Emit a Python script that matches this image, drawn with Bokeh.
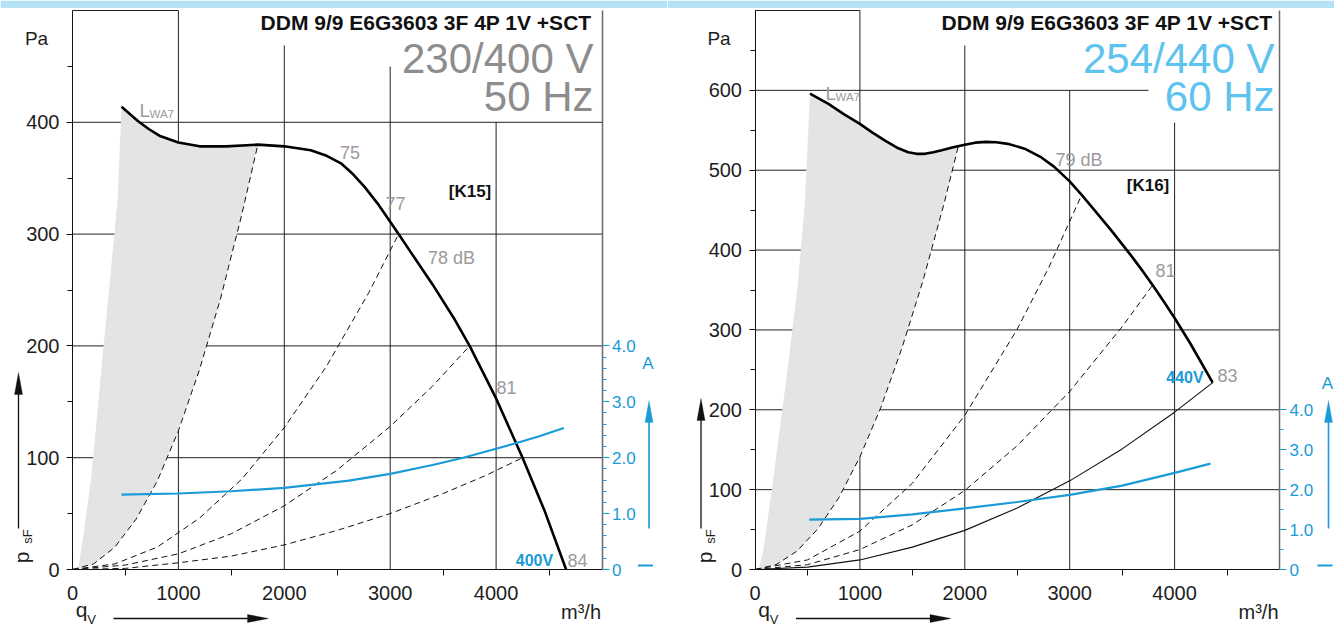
import math
from bokeh.plotting import figure
from bokeh.models import (Range1d, LinearAxis, FixedTicker, CustomJSTickFormatter, Label,
                          Arrow, PolyAnnotation)
from bokeh.layouts import row
from bokeh.embed import file_html
from bokeh.resources import INLINE

# ------------------------------------------------------------------
# DATA  (q in m3/h, p in Pa, current in A)
# ------------------------------------------------------------------
x_ticks = [0, 1000, 2000, 3000, 4000]
x_minor = [500, 1500, 2500, 3500, 4500]

# ---- left chart: 230/400 V, 50 Hz ----
L_title = "DDM 9/9 E6G3603 3F 4P 1V +SCT"
L_volt = "230/400 V"
L_freq = "50 Hz"
L_y_ticks = [0, 100, 200, 300, 400]
L_y_minor = [50, 150, 250, 350, 450]
L_a_ticks = [0, 1, 2, 3, 4]
L_a_minor = [0.2, 0.4, 0.6, 0.8, 1.2, 1.4, 1.6, 1.8, 2.2, 2.4, 2.6, 2.8, 3.2, 3.4, 3.6, 3.8]

L_curve_q = [463, 620, 720, 820, 1000, 1200, 1450, 1750, 2000, 2250, 2400, 2540, 2650, 2760, 2880,
             3000, 3079, 3200, 3400, 3600, 3750, 4000, 4250, 4460, 4661]
L_curve_p = [414, 401, 394, 388, 382, 378.5, 378.5, 380, 378.5, 375, 370, 363, 353.5, 342, 327.5,
             311, 300, 283, 255, 225, 200, 153, 100, 52, 0]
L_edge_q = [53, 110, 174, 235, 293, 360, 425, 463]
L_edge_p = [0, 35, 80, 140, 200, 265, 330, 414]
L_sys1_q = [0, 200, 400, 600, 800, 1000, 1200, 1400, 1600, 1750]
L_sys1_p = [0, 5, 20, 45, 79, 124, 179, 243, 318, 380]
L_sys2_q = [0, 400, 800, 1200, 1600, 2000, 2400, 2800, 3079]
L_sys2_p = [0, 5, 20, 46, 81, 127, 182, 248, 300]
L_sys3_q = [0, 500, 1000, 1500, 2000, 2500, 3000, 3400, 3750]
L_sys3_p = [0, 4, 14, 32, 57, 89, 128, 164, 200]
L_sys4_q = [0, 500, 1000, 1500, 2000, 2500, 3000, 3500, 3900, 4250]
L_sys4_p = [0, 1, 6, 12, 22, 35, 50, 68, 84, 100]
L_cur_q = [463, 1000, 1500, 2000, 2610, 3000, 3400, 3690, 4000, 4170, 4400, 4640]
L_cur_a = [1.34, 1.36, 1.40, 1.46, 1.59, 1.71, 1.87, 2.00, 2.16, 2.25, 2.38, 2.53]
L_db_text = ["75", "77", "78 dB", "81", "84"]
L_tag = "[K15]"
L_vtag = "400V"

# ---- right chart: 254/440 V, 60 Hz ----
R_title = "DDM 9/9 E6G3603 3F 4P 1V +SCT"
R_volt = "254/440 V"
R_freq = "60 Hz"
R_y_ticks = [0, 100, 200, 300, 400, 500, 600]
R_y_minor = [50, 150, 250, 350, 450, 550, 650]
R_a_ticks = [0, 1, 2, 3, 4]
R_a_minor = [0.5, 1.5, 2.5, 3.5]

R_curve_q = [524, 700, 850, 1000, 1120, 1240, 1350, 1460, 1540, 1620, 1700, 1780, 1880, 2000,
             2100, 2200, 2300, 2410, 2570, 2730, 2850, 3000, 3114, 3230, 3400, 3580, 3700,
             3800, 3900, 4000, 4150, 4363]
R_curve_p = [596, 583, 570, 558, 547, 537, 528.5, 522.5, 520.5, 520.5, 522.5, 525, 528.5, 532,
             534.5, 535.5, 535, 533, 527, 516, 504.5, 486, 469, 451, 424, 394, 373,
             354.5, 335, 315, 283, 234]
R_edge_q = [36, 80, 150, 230, 320, 410, 476, 524]
R_edge_p = [0, 25, 90, 170, 260, 360, 461, 596]
R_sys1_q = [0, 200, 400, 600, 800, 1000, 1200, 1400, 1600, 1800, 1940]
R_sys1_p = [0, 6, 23, 51, 90, 141, 203, 277, 361, 457, 531]
R_sys2_q = [0, 500, 1000, 1500, 2000, 2500, 2800, 3114]
R_sys2_p = [0, 12, 48, 108, 193, 301, 378, 469]
R_sys3_q = [0, 500, 1000, 1500, 2000, 2500, 3000, 3500, 3790]
R_sys3_p = [0, 6, 25, 56, 99, 155, 223, 304, 356]
R_line_q = [0, 500, 1000, 1500, 2000, 2500, 3000, 3500, 4000, 4363]
R_line_p = [0, 3, 12, 28, 49, 77, 111, 151, 197, 234]
R_cur_q = [518, 1000, 1500, 2000, 2500, 3000, 3500, 4000, 4342]
R_cur_a = [1.25, 1.27, 1.38, 1.53, 1.69, 1.87, 2.10, 2.42, 2.65]
R_db_text = ["79 dB", "81", "83"]
R_tag = "[K16]"
R_vtag = "440V"

# ------------------------------------------------------------------
# STYLE / LAYOUT
# ------------------------------------------------------------------
FONT = "Liberation Sans"
BLUE = "#1a9ad6"
LBLUE = "#5ec3ee"
GREYT = "#9b9b9b"
FILL = "#e3e4e4"
GRID = "#222222"
BAND = "#b6e2f6"
INK = "#1e1e1e"
W = 667
H = 628
PA_PER_A = 50              # 1 A on the current axis == 50 Pa


class Geo:
    """page-pixel position of a chart's plotting area, used to place annotations."""
    def __init__(self, fig_x, fl, fr, ft, fb, xmax, ymax):
        self.fig_x = fig_x
        self.fl, self.fr, self.ft, self.fb = fl, fr, ft, fb
        self.xmax, self.ymax = xmax, ymax

    def x(self, X):
        return (X - self.fl) / (self.fr - self.fl) * self.xmax

    def y(self, Y):
        return (self.fb - Y) / (self.fb - self.ft) * self.ymax


def label(p, g, text, X, Y, size, color, align="center", bold=False, angle=0.0,
          baseline="middle", font=FONT):
    p.add_layout(Label(x=g.x(X), y=g.y(Y), text=text, text_font=font,
                       text_font_size=f"{size}px", text_color=color, text_align=align,
                       text_baseline=baseline, text_font_style="bold" if bold else "normal",
                       angle=angle))


def line(p, g, X0, Y0, X1, Y1, color, width):
    p.add_layout(Arrow(x_start=g.x(X0), y_start=g.y(Y0), x_end=g.x(X1), y_end=g.y(Y1),
                       start=None, end=None, line_color=color, line_width=width))


def head(p, g, pts, color):
    p.add_layout(PolyAnnotation(xs=[g.x(a) for a, b in pts], ys=[g.y(b) for a, b in pts],
                                fill_color=color, fill_alpha=1.0, line_color=color, line_width=1))


def build(g, d):
    xs, xe = g.x(g.fig_x), g.x(g.fig_x + W)
    ys, ye = g.y(H), g.y(0)
    p = figure(width=W, height=H, x_range=Range1d(xs, xe), y_range=Range1d(ys, ye),
               output_backend="svg", toolbar_location=None,
               min_border_left=0, min_border_right=0, min_border_top=0, min_border_bottom=0)
    p.outline_line_color = None
    p.xgrid.visible = False
    p.ygrid.visible = False
    p.background_fill_color = "white"
    p.border_fill_color = "white"

    # light blue band along the top edge of the page
    p.quad(left=[xs], right=[xe], bottom=[g.y(7.5)], top=[ye], fill_color=BAND, line_color=None)

    # axes (placed at the data origin)
    xa = p.xaxis[0]
    xa.fixed_location = 0
    xa.bounds = (0, g.xmax)
    xa.ticker = FixedTicker(ticks=x_ticks, minor_ticks=x_minor)
    xa.major_tick_out = 0
    xa.major_tick_in = 0
    xa.minor_tick_out = 6
    xa.minor_tick_in = 0
    xa.axis_line_color = "#111111"
    xa.minor_tick_line_color = "#111111"
    xa.major_label_standoff = 10
    xa.major_label_text_font = FONT
    xa.major_label_text_font_size = "20px"
    xa.major_label_text_color = INK

    ya = p.yaxis[0]
    ya.fixed_location = 0
    ya.bounds = (0, g.ymax)
    ya.ticker = FixedTicker(ticks=d["yt"], minor_ticks=d["ym"])
    ya.major_tick_out = 6
    ya.major_tick_in = 0
    ya.minor_tick_out = 5
    ya.minor_tick_in = 0
    ya.axis_line_color = "#111111"
    ya.major_tick_line_color = "#111111"
    ya.minor_tick_line_color = "#111111"
    ya.major_label_standoff = 7
    ya.major_label_text_font = FONT
    ya.major_label_text_font_size = "20px"
    ya.major_label_text_color = INK

    p.extra_y_ranges = {"cur": Range1d(ys / PA_PER_A, ye / PA_PER_A)}
    ca = LinearAxis(y_range_name="cur", ticker=FixedTicker(ticks=d["at"], minor_ticks=d["am"]),
                    formatter=CustomJSTickFormatter(code="return tick == 0 ? '0' : tick.toFixed(1);"))
    ca.fixed_location = g.xmax
    ca.bounds = (0, g.ymax / PA_PER_A)
    ca.axis_line_color = "#6a6a6a"
    ca.axis_line_width = 1.5
    ca.major_tick_line_color = BLUE
    ca.minor_tick_line_color = BLUE
    ca.major_tick_out = 7
    ca.major_tick_in = 0
    ca.minor_tick_out = 4
    ca.minor_tick_in = 0
    ca.major_label_standoff = 3
    ca.major_label_text_font = FONT
    ca.major_label_text_font_size = "17px"
    ca.major_label_text_color = BLUE
    p.add_layout(ca, "right")

    # grid lines (some are cut short under the title block)
    gx0, gy0, gx1, gy1 = [], [], [], []
    for t, top in zip(x_ticks[1:], d["vtop"]):
        gx0.append(t); gy0.append(0); gx1.append(t); gy1.append(top)
    for t, right in zip(d["yt"][1:], d["hend"]):
        gx0.append(0); gy0.append(t); gx1.append(right); gy1.append(t)
    gx0.append(0); gy0.append(g.ymax); gx1.append(x_ticks[1]); gy1.append(g.ymax)
    p.segment(gx0, gy0, gx1, gy1, line_color=GRID, line_width=1)

    # shaded L_WA7 area
    top = [(q, v) for q, v in zip(d["cq"], d["cp"]) if d["cq"][0] < q < d["s1q"][-1]]
    sysback = [(q, v) for q, v in zip(d["s1q"], d["s1p"]) if q > d["eq"][0]][::-1]
    poly = list(zip(d["eq"], d["ep"])) + top + sysback
    p.patch([a for a, b in poly], [b for a, b in poly], fill_color=FILL, line_color=None)

    # system curves
    for sq, sp in d["sys"]:
        p.line(sq, sp, line_color="#111111", line_width=1, line_dash="6 4")
    if d.get("solid"):
        sq, sp = d["solid"]
        p.line(sq, sp, line_color="#111111", line_width=1.1)

    # fan curve and current
    p.line(d["cq"], d["cp"], line_color="#000000", line_width=2.6, line_join="round")
    p.line(d["iq"], [a * PA_PER_A for a in d["ia"]], line_color=BLUE, line_width=2.2)

    # texts
    label(p, g, d["title"], d["tx"], 22, 21, "#111111", align="right", bold=True)
    label(p, g, d["volt"], d["tx"] + 2, 58, 42, d["vcol"], align="right")
    label(p, g, d["freq"], d["tx"] + 2, 96, 42, d["vcol"], align="right")
    for t, (X, Y) in zip(d["db"], d["dbpos"]):
        label(p, g, t, X, Y, 18, GREYT)
    label(p, g, d["tag"], d["tagpos"][0], d["tagpos"][1], 17, "#111111", bold=True)
    label(p, g, d["vtag"], d["vtagpos"][0], d["vtagpos"][1], 16, BLUE, bold=True)
    lx, ly = d["lwa"]
    label(p, g, "L", lx, ly, 19, GREYT, align="left", baseline="alphabetic")
    label(p, g, "WA7", lx + 10, ly + 3, 11.5, GREYT, align="left", baseline="alphabetic")

    # outer axis captions
    ax0 = g.fl
    label(p, g, "Pa", ax0 - 36, 38, 19, INK)
    label(p, g, "p", ax0 - 51, 557, 21, INK, angle=math.pi / 2)
    label(p, g, "sF", ax0 - 45, 536, 13, INK, angle=math.pi / 2)
    line(p, g, ax0 - 54, 528, ax0 - 54, d["ytip"] + 20, "#111111", 1.3)
    head(p, g, [(ax0 - 58, d["ytip"] + 22), (ax0 - 54, d["ytip"]), (ax0 - 50, d["ytip"] + 22)], "#111111")

    label(p, g, "q", ax0 + 9, 609, 21, INK)
    label(p, g, "V", ax0 + 19, 619, 13, INK)
    line(p, g, ax0 + 41, 618, ax0 + 178, 618, "#111111", 1.3)
    head(p, g, [(ax0 + 175, 614), (ax0 + 196, 618), (ax0 + 175, 622)], "#111111")
    label(p, g, "m³/h", g.fr - 1, 611, 20, INK, align="right")

    ax_ = g.fr + d["adx"]
    label(p, g, "A", ax_ - 1, d["aY"], 17, BLUE)
    line(p, g, ax_, 528, ax_, 420, BLUE, 1.6)
    head(p, g, [(ax_ - 4, 422), (ax_, 400), (ax_ + 4, 422)], BLUE)
    line(p, g, ax_ - 11, 565, ax_ + 4, 565, BLUE, 2)
    return p


gL = Geo(0, 72, 601.5, 10, 569, 5000, 500)
gR = Geo(W, 754.5, 1279, 10, 569, 5000, 700)

dL = dict(yt=L_y_ticks, ym=L_y_minor, at=L_a_ticks, am=L_a_minor,
          vtop=[500, gL.y(45), gL.y(66), 400], hend=[5000, 5000, 5000, 5000],
          cq=L_curve_q, cp=L_curve_p, eq=L_edge_q, ep=L_edge_p, s1q=L_sys1_q, s1p=L_sys1_p,
          sys=[(L_sys1_q, L_sys1_p), (L_sys2_q, L_sys2_p), (L_sys3_q, L_sys3_p), (L_sys4_q, L_sys4_p)],
          iq=L_cur_q, ia=L_cur_a, title=L_title, volt=L_volt, freq=L_freq, vcol="#8d8d8d",
          tx=591, db=L_db_text, dbpos=[(349.5, 152), (395, 202.5), (451, 257), (506, 387), (577, 559.5)],
          tag=L_tag, tagpos=(469.5, 191), vtag=L_vtag, vtagpos=(534, 560), lwa=(139, 110),
          ytip=372, adx=47, aY=363)
dR = dict(yt=R_y_ticks, ym=R_y_minor, at=R_a_ticks, am=R_a_minor,
          vtop=[700, gR.y(45), 600, gR.y(122)], hend=[5000, 5000, 5000, 5000, 5000, gR.x(1148)],
          cq=R_curve_q, cp=R_curve_p, eq=R_edge_q, ep=R_edge_p, s1q=R_sys1_q, s1p=R_sys1_p,
          sys=[(R_sys1_q, R_sys1_p), (R_sys2_q, R_sys2_p), (R_sys3_q, R_sys3_p)],
          solid=(R_line_q, R_line_p),
          iq=R_cur_q, ia=R_cur_a, title=R_title, volt=R_volt, freq=R_freq, vcol=LBLUE,
          tx=1272, db=R_db_text, dbpos=[(1078.5, 159.5), (1165, 269.5), (1227, 374.5)],
          tag=R_tag, tagpos=(1147.5, 185), vtag=R_vtag, vtagpos=(1184.5, 377), lwa=(825, 93),
          ytip=398, adx=49, aY=383)

pL = build(gL, dL)
pR = build(gR, dR)
layout = row(pL, pR)

with open("out.html", "w") as f:
    f.write(file_html(layout, INLINE))
